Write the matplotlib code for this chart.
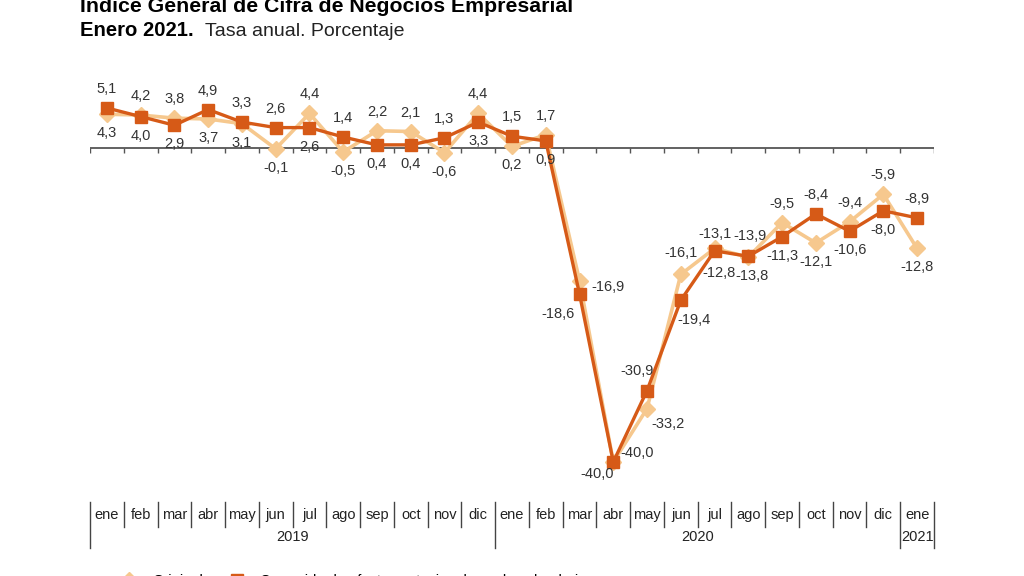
import numpy as np
import matplotlib
matplotlib.use("Agg")
import matplotlib.pyplot as plt
import matplotlib.transforms as mtransforms
from matplotlib.lines import Line2D

plt.rcParams['font.family'] = ['Liberation Sans Narrow', 'Liberation Sans', 'DejaVu Sans']

# Dati
mesi = ["ene", "feb", "mar", "abr", "may", "jun", "jul", "ago", "sep", "oct", "nov", "dic",
        "ene", "feb", "mar", "abr", "may", "jun", "jul", "ago", "sep", "oct", "nov", "dic",
        "ene"]
anni = ["2019", "2020", "2021"]
mesi_per_anno = [12, 12, 1]

original = [4.3, 4.2, 3.8, 3.7, 3.1, -0.1, 4.4, -0.5, 2.2, 2.1, -0.6, 4.4,
            0.2, 1.7, -16.9, -40.0, -33.2, -16.1, -12.8, -13.9, -9.5, -12.1, -9.4, -5.9,
            -12.8]
corregido = [5.1, 4.0, 2.9, 4.9, 3.3, 2.6, 2.6, 1.4, 0.4, 0.4, 1.3, 3.3,
             1.5, 0.9, -18.6, -40.0, -30.9, -19.4, -13.1, -13.8, -11.3, -8.4, -10.6, -8.0,
             -8.9]

col_orig = "#F6C88E"
col_corr = "#D65A17"

# posizioni etichette (offset in pixel), default sopra/sotto
off_speciali_orig = {14: (28, -6), 15: (24, 9), 16: (21, -15), 17: (0, 21), 18: (4, -25), 19: (2, 21)}
off_speciali_corr = {14: (-22, -20), 15: (-16, -12), 16: (-10, 20), 17: (13, -20), 18: (0, 17), 19: (4, -20)}

fig = plt.figure(figsize=(10.24, 5.76), dpi=100)
W, H = 1024, 576
x0, x1 = 90, 934
ytop, ybot = 60, 490
ax = fig.add_axes([x0 / W, 1 - ybot / H, (x1 - x0) / W, (ybot - ytop) / H])

n = len(mesi)
x = np.arange(n)
scala = 314 / 40.0
ax.set_xlim(-0.5, n - 0.5)
ax.set_ylim(-(ybot - 148) / scala, (148 - ytop) / scala)
ax.axis("off")

# asse dello zero con tacche
ax.axhline(0, color="#555555", lw=1.3, zorder=1)
ax.vlines(np.arange(n + 1) - 0.5, -0.65, 0, color="#555555", lw=1.0, zorder=1)

ax.plot(x, original, color=col_orig, lw=2.6, marker="D", ms=8.5, zorder=2)
ax.plot(x, corregido, color=col_corr, lw=2.4, marker="s", ms=9, zorder=3)

for i in range(n):
    o, c = original[i], corregido[i]
    if o > c:
        oo, oc = (0, 19), (0, -19)
    else:
        oo, oc = (0, -19), (0, 19)
    oo = off_speciali_orig.get(i, oo)
    oc = off_speciali_corr.get(i, oc)
    for v, off in ((o, oo), (c, oc)):
        ax.annotate(f"{v:.1f}".replace(".", ","), (i, v), xytext=(off[0] / 1.389, off[1] / 1.389),
                    textcoords="offset points", ha="center", va="center", fontsize=10.5,
                    color="#333333", zorder=5)

# etichette mesi e anni
tr = mtransforms.blended_transform_factory(ax.transData, fig.transFigure)
y_mese = 1 - 515 / H
y_anno = 1 - 537 / H
for i, m in enumerate(mesi):
    ax.text(i, y_mese, m, transform=tr, ha="center", va="center", fontsize=10.5, color="#222222")

inizio = 0
for a, k in zip(anni, mesi_per_anno):
    ax.text(inizio + (k - 1) / 2, y_anno, a, transform=tr, ha="center", va="center",
            fontsize=10.5, color="#222222")
    inizio += k

bordi_anno = set(np.cumsum([0] + mesi_per_anno))
for b in range(n + 1):
    ybottom = 548 if b in bordi_anno else 527
    ax.plot([b - 0.5, b - 0.5], [1 - 502 / H, 1 - ybottom / H], transform=tr,
            color="#444444", lw=1.0, clip_on=False)

# titolo
fig.text(80 / W, 1 - 5 / H, "Índice General de Cifra de Negocios Empresarial", fontsize=15.3,
         fontweight="bold", family=["Liberation Sans", "DejaVu Sans"], va="center", ha="left")
fig.text(80 / W, 1 - 31 / H, "Enero 2021.", fontsize=14.6, fontweight="bold",
         family=["Liberation Sans", "DejaVu Sans"], va="center", ha="left")
fig.text(205 / W, 1 - 31 / H, "Tasa anual. Porcentaje", fontsize=14,
         family=["Liberation Sans", "DejaVu Sans"], va="center", ha="left", color="#222222")

# legenda
handles = [Line2D([], [], color=col_orig, lw=2.6, marker="D", ms=8.5),
           Line2D([], [], color=col_corr, lw=2.4, marker="s", ms=9)]
fig.legend(handles, ["Original", "Corregido de efectos estacionales y de calendario"],
           loc="center left", bbox_to_anchor=(100 / W, 1 - 581 / H), ncol=2, frameon=False,
           fontsize=10.5, handlelength=2.2, columnspacing=1.2, handletextpad=0.5)

fig.savefig("out.png", dpi=100)
